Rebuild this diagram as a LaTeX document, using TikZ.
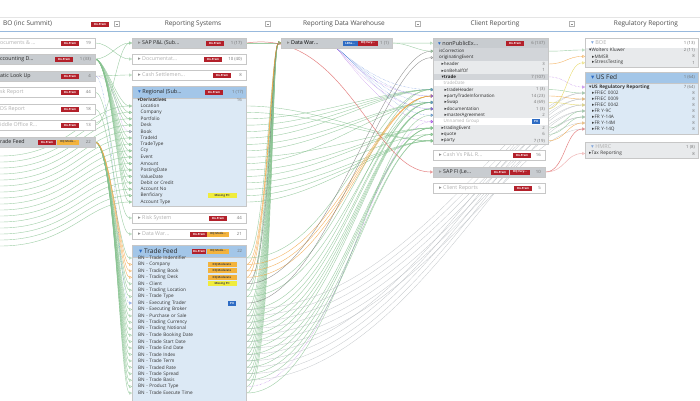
\documentclass[tikz,border=0pt]{standalone}
\usepackage{fontspec}
\setmainfont{Open Sans}
\newfontfamily\symf{DejaVu Sans}
\usepackage{tikz}
\usetikzlibrary{arrows.meta,positioning,calc,backgrounds}

\definecolor{hdrblue}{HTML}{A3C6E8}
\definecolor{bodyblue}{HTML}{DCE9F5}
\definecolor{boxgray}{HTML}{C8CCD0}
\definecolor{rowgray}{HTML}{D2D5D9}
\definecolor{lightrow}{HTML}{E8EAEC}
\definecolor{fadetxt}{HTML}{B0B0B0}
\definecolor{premred}{HTML}{B3202A}
\definecolor{dqorange}{HTML}{F3B33D}
\definecolor{piiyellow}{HTML}{F0EC3C}
\definecolor{piiblue}{HTML}{2E6CC4}
\definecolor{lngreen}{HTML}{86C28F}
\definecolor{lnorange}{HTML}{F2A23C}
\definecolor{lnyellow}{HTML}{E3D24A}
\definecolor{lnpurple}{HTML}{A24BE0}
\definecolor{lnblue}{HTML}{4A78D8}
\definecolor{lnred}{HTML}{E06464}
\definecolor{lngray}{HTML}{707070}
\definecolor{hatchgray}{HTML}{B5BABF}
\definecolor{hdrrule}{HTML}{98B9DD}

\newcommand{\closedmark}{{\symf ▸}}
\newcommand{\openmark}{{\symf ▾}}
\newcommand{\trm}{...}

\pgfdeclarelayer{canvas}
\pgfsetlayers{canvas,background,main}

\begin{document}
\begin{tikzpicture}[x=1pt, y=-1pt,
    % --- Styles ---
    colhdr/.style={font=\fontsize{6.5}{7}\selectfont, text=black!70, inner sep=0pt},
    ctl/.style={draw=black!30, minimum size=5pt, inner sep=0pt,
                path picture={\draw[black!45, line width=0.4pt]
                  ([xshift=1.2pt]path picture bounding box.west) --
                  ([xshift=-1.2pt]path picture bounding box.east);}},
    cbox/.style={draw=black!22, minimum width=114pt, minimum height=10pt, inner sep=0pt},
    faded/.style={cbox, fill=white},
    dark/.style={cbox, fill=boxgray},
    rowtxt/.style={font=\fontsize{5.3}{6}\selectfont, inner sep=0pt},
    cnt/.style={font=\fontsize{4.3}{5}\selectfont, text=black!55, inner sep=0pt},
    badge/.style={font=\fontsize{2.8}{3}\selectfont\bfseries, inner sep=0pt, minimum height=5pt},
    prem/.style={badge, fill=premred, text=white, minimum width=18pt},
    dq/.style={badge, fill=dqorange, text=black!75, minimum width=22pt},
    pii/.style={badge, fill=piiyellow, text=black!75, minimum width=29pt},
    piitag/.style={badge, fill=piiblue, text=white, minimum width=8pt},
    xbox/.style={draw=black!22, fill=bodyblue, minimum width=114pt, inner sep=0pt},
    xhead/.style={draw=black!22, fill=hdrblue, minimum width=114pt, minimum height=12pt, inner sep=0pt},
    ttl/.style={font=\fontsize{5.5}{6}\selectfont, text=black!85, inner sep=0pt},
    item/.style={font=\fontsize{4.7}{5}\selectfont, text=black!80, minimum height=6.4pt,
                 inner ysep=0pt, align=left},
    feed/.style={draw=lngreen, draw opacity=0.8, line width=0.4pt,
                 -{Triangle[open, length=2.6pt, width=3pt]}},
    ofeed/.style={feed, draw=lnorange},
    yfeed/.style={feed, draw=lnyellow},
    kfeed/.style={feed, draw=lngray, line width=0.35pt},
    pfeed/.style={feed, draw=lnpurple, densely dotted},
    bfeed/.style={feed, draw=lnblue, densely dotted},
    rfeed/.style={feed, draw=lnred, line width=0.5pt},
    hfeed/.style={feed, draw=hatchgray, line width=0.3pt},
]
\useasboundingbox (0,0) rectangle (700,400);
\begin{pgfonlayer}{canvas}
  \fill[white] (0,0) rectangle (700,400);
\end{pgfonlayer}

% === Column headers ===
\fill[white] (0,17) rectangle (700,31);
\draw[black!10] (0,17) -- (700,17);
\draw[hdrrule, line width=0.8pt] (0,31.3) -- (700,31.3);
\node[colhdr, anchor=west] (hd-bo) at (3,24) {BO (inc Summit)};
\node[prem] (hd-bo-b) at (100,24) {On-Prem};
\node[ctl] (hd-bo-c) at (117,24) {};
\node[colhdr] (hd-rs) at (193,24) {Reporting Systems};
\node[ctl] (hd-rs-c) at (268,24) {};
\node[colhdr] (hd-dw) at (344,24) {Reporting Data Warehouse};
\node[ctl] (hd-dw-c) at (418,24) {};
\node[colhdr] (hd-cr) at (495,24) {Client Reporting};
\node[ctl] (hd-cr-c) at (572,24) {};
\node[colhdr] (hd-rr) at (646,24) {Regulatory Reporting};

% === BO (inc Summit), cut at the left edge ===
\foreach \py/\lbl/\cnum/\sty/\tcol/\bx [count=\i] in {
    43/ocuments \& \trm/19/faded/fadetxt/70,
    59/ccounting D\trm/1 (33)/dark/black!85/64,
    76/atic Look Up/4/dark/black!85/70,
    92/sk Report/44/faded/fadetxt/70,
    109/DS Report/18/faded/fadetxt/70,
    125/iddle Office R\trm/13/faded/fadetxt/70,
    142/rade Feed/22/dark/black!85/47}{
  \node[\sty, anchor=east, minimum width=110pt] (bo-\i) at (95,\py) {};
  \node[rowtxt, text=\tcol, anchor=west] (bo-\i-t) at (0,\py) {\lbl};
  \node[prem] (bo-\i-b) at (\bx,\py) {On-Prem};
  \node[cnt, anchor=east] (bo-\i-n) at (91,\py) {\cnum};
}
\node[dq] (bo-7-q) at (68,142) {DQ Mode...};

% === Reporting Systems, collapsed ===
\foreach \py/\lbl/\cnum/\sty/\tcol/\bx [count=\i] in {
    43/SAP P\&L (Sub\trm/1 (17)/dark/black!85/215,
    59/Documentat\trm/10 (40)/faded/fadetxt/213,
    75/Cash Settlemen\trm/8/faded/fadetxt/222,
    218/Risk System/44/faded/fadetxt/218,
    234/Data War\trm/21/faded/fadetxt/199}{
  \node[\sty, anchor=west] (rs-\i) at (132,\py) {};
  \node[rowtxt, text=\tcol, anchor=west] (rs-\i-t) at (138,\py) {{\color{black!45}\closedmark}\ \lbl};
  \node[prem] (rs-\i-b) at (\bx,\py) {On-Prem};
  \node[cnt, anchor=east] (rs-\i-n) at (242,\py) {\cnum};
}
\node[dq] (rs-5-q) at (218,234) {DQ Mode...};

% === Regional (expanded) ===
\node[xbox, anchor=north west, minimum height=120pt] (reg) at (132,86) {};
\node[xhead, anchor=north west] (reg-h) at (132,86) {};
\node[ttl, anchor=west] (reg-t) at (138,92) {{\color{piiblue}\openmark}\ Regional (Sub...};
\node[prem] (reg-b) at (214,92) {On-Prem};
\node[cnt, left=3pt of reg-h.east] (reg-n) {1 (17)};
\node[item, anchor=west, font=\fontsize{4.7}{5}\selectfont\bfseries] (reg-d) at (134,100) {\openmark Derivatives};
\node[cnt, anchor=east] (reg-d-n) at (242,100) {16};
\foreach \lbl [count=\i] in {Location, Company, Portfolio, Desk, Book, TradeId,
    TradeType, Ccy, Event, Amount, PostingDate, ValueDate, Debit or Credit,
    Account No, Benficiary, Account Type}
  \node[item, anchor=west, text width=97pt, inner xsep=8.5pt] (reg-\i) at (132,99.6+6.4*\i) {\lbl};
\node[pii] (reg-15-p) at (222,195.6) {Missing PII};

% === Trade Feed (expanded) ===
\node[xbox, anchor=north west, minimum height=160pt] (tf) at (132,245) {};
\node[xhead, anchor=north west] (tf-h) at (132,245) {};
\node[ttl, anchor=west, font=\fontsize{6.5}{7}\selectfont] (tf-t) at (139,251) {{\color{piiblue}\openmark}\ Trade Feed};
\node[prem, minimum width=14pt] (tf-b) at (199,251) {On-Prem};
\node[dq] (tf-q) at (218,251) {DQ Mode...};
\node[cnt, left=4pt of tf-h.east] (tf-n) {22};
\foreach \lbl [count=\i] in {Trade Indentifier, Company, Trading Book, Trading Desk,
    Client, Trading Location, Trade Type, Executing Trader, Executing Broker,
    Purchase or Sale, Trading Currency, Trading Notional, Trade Booking Date,
    Trade Start Date, Trade End Date, Trade Index, Trade Term, Traded Rate,
    Trade Spread, Trade Basis, Product Type, Trade Execute Time}
  \node[item, anchor=west, text width=102pt, inner xsep=6pt] (tf-\i) at (132,251.6+6.43*\i) {BN - \lbl};
\foreach \i in {2,3,4}
  \node[dq, minimum width=29pt] (tf-\i-q) at (222,251.6+6.43*\i) {DQ Moderate};
\node[pii] (tf-5-p) at (222,283.75) {Missing PII};
\node[piitag] (tf-8-p) at (232,303.04) {PII};

% === Reporting Data Warehouse ===
\node[dark, minimum width=111pt, anchor=west] (dw) at (281,43) {};
\node[rowtxt, anchor=west] (dw-t) at (287,43) {{\color{black!45}\closedmark}\ Data War...};
\node[badge, fill=piiblue, text=white, minimum width=15pt] (dw-l) at (350,43) {LDSe...};
\node[badge, fill=premred, text=white, minimum width=20pt] (dw-q) at (368,43) {DQ Very...};
\node[cnt, anchor=east] (dw-n) at (389,43) {1 (1)};

% === Client Reporting ===
\node[cbox, fill=lightrow, minimum width=115pt, minimum height=106pt, anchor=north west] (npe) at (433,38) {};
\node[dark, minimum width=115pt, anchor=north west] (npe-h) at (433,38) {};
\node[ttl, anchor=west] (npe-t) at (438,43) {{\color{piiblue}\openmark}\ nonPublicEx...};
\node[prem] (npe-b) at (515,43) {On-Prem};
\node[cnt, anchor=east] (npe-n) at (545,43) {6 (137)};
\foreach \lbl/\cnum/\fcol/\tcol/\ind [count=\i] in {
    isCorrection//rowgray/black!85/1.5,
    originatingEvent//rowgray/black!85/1.5,
    \closedmark header/3/lightrow/black!85/4,
    \closedmark onBehalfOf/1/lightrow/black!85/4,
    \openmark\textbf{trade}/7 (107)/rowgray/black!85/4,
    tradeDate//white/fadetxt/6,
    \closedmark tradeHeader/1 (3)/lightrow/black!85/7,
    \closedmark partyTradeInformation/14 (23)/lightrow/black!85/7,
    \closedmark Swap/4 (69)/lightrow/black!85/7,
    \closedmark documentation/1 (3)/lightrow/black!85/7,
    \closedmark masterAgreement/2/lightrow/black!85/7,
    Unnamed Group//white/fadetxt/6,
    \closedmark tradingEvent/2/lightrow/black!85/4,
    \closedmark quote/6/lightrow/black!85/4,
    \closedmark party/7 (19)/lightrow/black!85/4}{
  \node[item, anchor=west, fill=\fcol, text=\tcol, font=\fontsize{4.5}{5}\selectfont,
        text width=106pt, inner xsep=4pt] (npe-\i) at (433.5,44.8+6.4*\i) {\hspace*{\ind pt}\lbl};
  \node[cnt, anchor=east] (npe-\i-n) at (545,44.8+6.4*\i) {\cnum};
}
\node[piitag] (npe-12-p) at (536,121.6) {PII};

\foreach \py/\lbl/\cnum/\sty/\tcol/\bx [count=\i] in {
    155/Cash Vs P\&L R\trm/16/faded/fadetxt/522,
    172/SAP FI (Le\trm/10/dark/black!85/500,
    188/Client Reports/5/faded/fadetxt/523}{
  \node[\sty, minimum width=112pt, anchor=west] (cr-\i) at (433,\py) {};
  \node[rowtxt, text=\tcol, anchor=west] (cr-\i-t) at (439,\py) {{\color{black!45}\closedmark}\ \lbl};
  \node[prem] (cr-\i-b) at (\bx,\py) {On-Prem};
  \node[cnt, anchor=east] (cr-\i-n) at (541,\py) {\cnum};
}
\node[badge, fill=premred, text=white, minimum width=20pt] (cr-2-q) at (520,172) {DQ Very...};

% === Regulatory Reporting ===
\node[cbox, fill=lightrow, minimum width=113pt, minimum height=29pt, anchor=north west] (boe) at (585,38) {};
\node[fill=white, minimum width=112pt, minimum height=9pt, inner sep=0pt, anchor=north west] (boe-h) at (585.5,38.5) {};
\node[ttl, anchor=west, text=fadetxt] (boe-t) at (591,43) {{\color{piiblue!60}\openmark}\ BOE};
\node[cnt, anchor=east] (boe-n) at (695,43) {1 (13)};
\foreach \lbl/\cnum [count=\i] in {\openmark Wolters Kluwer/2 (11),
    \hspace*{3pt}\closedmark MMSR/8, \hspace*{3pt}\closedmark StressTesting/1}{
  \node[item, anchor=west, text width=105pt, inner xsep=4pt] (boe-\i) at (585,43.6+6.4*\i) {\lbl};
  \node[cnt, anchor=east] (boe-\i-n) at (695,43.6+6.4*\i) {\cnum};
}

\node[xbox, minimum width=113pt, minimum height=62pt, anchor=north west] (usf) at (585,72) {};
\node[xhead, minimum width=113pt, minimum height=11pt, anchor=north west] (usf-h) at (585,72) {};
\node[ttl, anchor=west, font=\fontsize{6.5}{7}\selectfont] (usf-t) at (591,77.5) {{\color{piiblue}\openmark}\ US Fed};
\node[cnt, anchor=east] (usf-n) at (695,77.5) {1 (64)};
\node[item, anchor=west, font=\fontsize{4.7}{5}\selectfont\bfseries, text width=105pt, inner xsep=4pt] (us-0) at (585,87) {\openmark US Regulatory Reporting};
\node[cnt, anchor=east] (us-0-n) at (695,87) {7 (64)};
\foreach \lbl [count=\i] in {FFIEC 0002, FFIEC 0009, FFIEC 0042, FR Y-9C, FR Y-14A, FR Y-14M, FR Y-14Q}{
  \node[item, anchor=west, minimum height=6pt, text width=105pt, inner xsep=4pt] (us-\i) at (585,87+6*\i) {\hspace*{3pt}\closedmark\lbl};
  \node[cnt, anchor=east] (us-\i-n) at (695,87+6*\i) {8};
}

\node[cbox, fill=lightrow, minimum width=113pt, minimum height=16pt, anchor=north west] (hmrc) at (585,142) {};
\node[ttl, anchor=west, text=fadetxt] (hmrc-t) at (591,147) {{\color{piiblue!60}\openmark}\ HMRC};
\node[cnt, anchor=east] (hmrc-n) at (695,147) {1 (8)};
\node[item, anchor=west, text width=105pt, inner xsep=4pt] (hmrc-1) at (585,153.5) {\closedmark Tax Reporting};
\node[cnt, anchor=east] (hmrc-1-n) at (695,153.5) {8};

% === Lineage links (behind the boxes) ===
\begin{scope}[on background layer]
% BO -> Reporting Systems
\foreach \i in {1,5,6,7,9,10,...,22}
  \draw[feed] (bo-7.east) .. controls +(14+0.3*\i,0) and +(-12,0) .. (tf-\i.west);
\foreach \i in {2,3,4}
  \draw[ofeed] (bo-7.east) .. controls +(16,0) and +(-12,0) .. (tf-\i.west);
\draw[bfeed] (bo-3.east) .. controls +(18,0) and +(-14,0) .. (tf-8.west);
\draw[pfeed] (bo-3.east) .. controls +(25,0) and +(-16,0) .. (reg-5.west);
\foreach \i in {1,...,4,6,7,...,16}
  \draw[feed] (bo-2.east) .. controls +(10+0.4*\i,0) and +(-14,0) .. (reg-\i.west);
\foreach \i in {1,...,16} {
  \coordinate (src-\i) at (0,150+6*\i);
  \draw[feed] (src-\i) .. controls +(70,0) and +(-45,0) .. (reg-\i.west);
}
\foreach \a/\b in {1/2,2/1,3/3,4/4,5/5,6/1}
  \draw[feed] (bo-\a.east) .. controls +(15,0) and +(-15,0) .. (rs-\b.west);

% Reporting Systems -> Data Warehouse
\foreach \i in {1,6,7,9,10,...,22}
  \draw[feed] (tf-\i.east) .. controls +(18+0.4*\i,0) and +(-10,0) .. (dw.west);
\foreach \i in {2,3,4}
  \draw[ofeed] (tf-\i.east) .. controls +(20,0) and +(-10,0) .. (dw.west);
\draw[kfeed] (tf-5.east) .. controls +(24,0) and +(-10,0) .. (dw.west);
\draw[feed] (rs-1.east) -- (dw.west);

% Reporting Systems -> Client Reporting
\foreach \i/\j in {1/15,2/15,3/7,4/7,5/7,6/7,7/9,8/9,9/13,10/9,11/13,12/13,13/14,14/15,15/15,16/15}
  \draw[feed] (reg-\i.east) .. controls +(70,0) and +(-50,0) .. (npe-\j.west);
\foreach \i/\j in {1/7,6/7,7/9,9/8,10/9,11/9,12/10,13/10,14/10,15/10,16/13,17/13,18/13,19/14,20/14,22/11}
  \draw[feed] (tf-\i.east) .. controls +(90,0) and +(-60,0) .. (npe-\j.west);
\foreach \i in {2,3,4}
  \draw[ofeed] (tf-\i.east) .. controls +(90,0) and +(-60,0) .. (npe-8.west);
\draw[kfeed] (tf-5.east) .. controls +(80,0) and +(-50,0) .. (npe-1.west);
\draw[kfeed] (tf-8.east) .. controls +(80,0) and +(-50,0) .. (npe-2.west);
\draw[pfeed] (tf-21.east) .. controls +(90,0) and +(-60,0) .. (npe-12.west);
\draw[rfeed] (rs-1.east) .. controls +(100,-15) and +(-60,0) .. (cr-2.west);

% Data Warehouse -> Client Reporting
\draw[feed] (dw.east) -- (npe-h.west);
\draw[feed] (dw.east) .. controls +(15,0) and +(-15,0) .. (npe-1.west);
\foreach \j in {7,...,11}
  \draw[bfeed] (dw.south) .. controls +(30,25) and +(-40,0) .. (npe-\j.west);
\foreach \j in {8,10,12}
  \draw[pfeed] (dw.south) .. controls +(20,25) and +(-40,0) .. (npe-\j.west);

% into Regulatory Reporting
\foreach \i/\j in {9/1,10/2,11/3,12/4,13/5,14/6,15/7,16/1,17/2,18/3,19/4,20/5}
  \draw[hfeed] (tf-\i.east) .. controls +(160,0) and +(-70,0) .. (us-\j.west);
\foreach \i/\j/\sty in {7/1/feed, 8/2/ofeed, 9/3/yfeed, 13/4/feed, 14/5/feed, 15/6/ofeed, 5/0/pfeed}
  \draw[\sty] (npe-\i.east) .. controls +(18,0) and +(-18,0) .. (us-\j.west);
\draw[feed] (npe-1.east) .. controls +(18,0) and +(-18,0) .. (boe-1.west);
\draw[ofeed] (npe-3.east) .. controls +(18,0) and +(-18,0) .. (boe-2.west);
\draw[yfeed] (npe-10.east) .. controls +(18,0) and +(-18,0) .. (boe-3.west);
\draw[rfeed] (cr-2.east) .. controls +(20,0) and +(-20,0) .. (us-7.west);
\draw[rfeed, draw=lnred!60] (cr-2.east) .. controls +(20,0) and +(-20,0) .. (hmrc-1.west);
\end{scope}

\end{tikzpicture}
\end{document}
